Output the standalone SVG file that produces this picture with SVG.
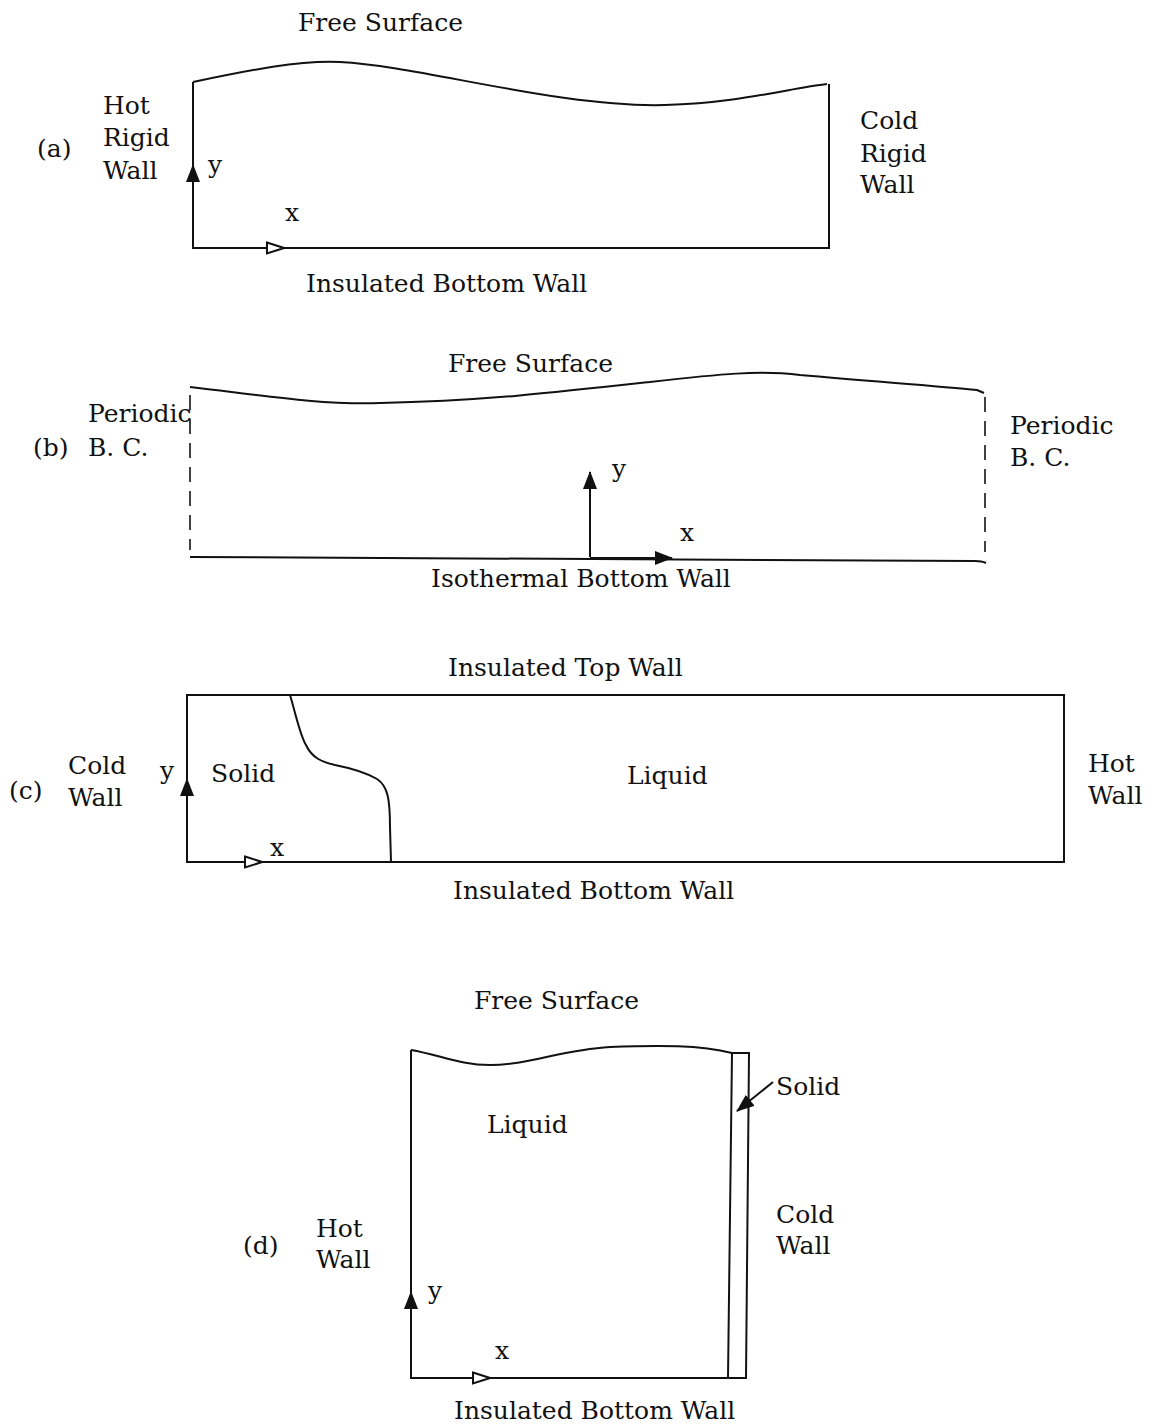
<svg xmlns="http://www.w3.org/2000/svg" width="1156" height="1425" viewBox="0 0 1156 1425">
<style>
text{font-family:"DejaVu Serif","Liberation Serif",serif;font-size:25px;fill:#111}
.ln{fill:none;stroke:#111;stroke-width:2}
.dash{fill:none;stroke:#111;stroke-width:1.6;stroke-dasharray:15 9}
</style>
<defs>
<marker id="af" markerUnits="userSpaceOnUse" markerWidth="18" markerHeight="14" refX="17" refY="7" orient="auto"><path d="M0,0 L18,7 L0,14 z" fill="#111"/></marker>
<marker id="ao" markerUnits="userSpaceOnUse" markerWidth="20" markerHeight="14" refX="18" refY="7" orient="auto"><path d="M1,1.5 L18,7 L1,12.5 z" fill="#fff" stroke="#111" stroke-width="2"/></marker>
</defs>
<rect width="1156" height="1425" fill="#fff"/>

<g id="panel-a">
<path class="ln" d="M193,82 C250,70 300,60 340,62 C420,66 560,108 665,105 C740,103 790,88 827,84"/>
<path class="ln" d="M193,82 L193,248 L829,248 L829,84"/>
<text x="298" y="31">Free Surface</text>
<text x="103" y="114">Hot</text>
<text x="103" y="146">Rigid</text>
<text x="103" y="179">Wall</text>
<text x="37" y="157">(a)</text>
<text x="208" y="173">y</text>
<text x="285" y="221">x</text>
<text x="860" y="129">Cold</text>
<text x="860" y="162">Rigid</text>
<text x="860" y="193">Wall</text>
<text x="306" y="292">Insulated Bottom Wall</text>
</g>

<g id="panel-b">
<path class="ln" d="M190,387 C260,395 320,405 380,403 C480,401 560,392 650,382 C720,374 760,370 800,375 C880,382 940,386 977,390 L984,393"/>
<path class="dash" d="M190,395 L190,550"/>
<path class="dash" d="M985,397 L985,552"/>
<path class="ln" d="M190,557 L975,561 Q982,561 986,563"/>
<text x="448" y="372">Free Surface</text>
<text x="88" y="422">Periodic</text>
<text x="88" y="456">B. C.</text>
<text x="33" y="456">(b)</text>
<text x="1010" y="434">Periodic</text>
<text x="1010" y="466">B. C.</text>
<text x="612" y="477">y</text>
<text x="680" y="541">x</text>
<text x="431" y="587">Isothermal Bottom Wall</text>
</g>

<g id="panel-c">
<rect class="ln" x="187" y="695" width="877" height="167"/>
<path class="ln" d="M290,695 C296,715 300,735 306,745 C312,758 322,762 335,765 C350,768 365,772 377,779 C388,786 390,800 390,827 L391,862"/>
<text x="448" y="676">Insulated Top Wall</text>
<text x="68" y="774">Cold</text>
<text x="68" y="806">Wall</text>
<text x="9" y="799">(c)</text>
<text x="160" y="779">y</text>
<text x="211" y="782">Solid</text>
<text x="627" y="784">Liquid</text>
<text x="1088" y="772">Hot</text>
<text x="1088" y="804">Wall</text>
<text x="270" y="856">x</text>
<text x="453" y="899">Insulated Bottom Wall</text>
</g>

<g id="panel-d">
<path class="ln" d="M411,1050 C440,1055 460,1065 490,1065 C530,1065 560,1050 610,1047 C660,1045 700,1045 732,1053"/>
<path class="ln" d="M411,1050 L411,1378 L747,1378"/>
<path class="ln" d="M732,1053 L728,1378"/>
<path class="ln" d="M732,1053 L749,1053 L746,1378"/>
<text x="474" y="1009">Free Surface</text>
<text x="776" y="1095">Solid</text>
<text x="487" y="1133">Liquid</text>
<text x="243" y="1254">(d)</text>
<text x="316" y="1237">Hot</text>
<text x="316" y="1268">Wall</text>
<text x="776" y="1223">Cold</text>
<text x="776" y="1254">Wall</text>
<text x="428" y="1299">y</text>
<text x="495" y="1359">x</text>
<text x="454" y="1419">Insulated Bottom Wall</text>
</g>

<g id="connectors">
<path class="ln" d="M193,248 L193,165" marker-end="url(#af)"/>
<path class="ln" d="M193,248 L284,248" marker-end="url(#ao)"/>
<path class="ln" d="M590,557 L590,472" marker-end="url(#af)"/>
<path class="ln" d="M590,558 L672,558" marker-end="url(#af)"/>
<path class="ln" d="M187,862 L187,779" marker-end="url(#af)"/>
<path class="ln" d="M187,862 L262,862" marker-end="url(#ao)"/>
<path class="ln" d="M411,1378 L411,1292" marker-end="url(#af)"/>
<path class="ln" d="M411,1378 L490,1378" marker-end="url(#ao)"/>
<path class="ln" stroke-width="1.6" d="M773,1082 L737,1111" marker-end="url(#af)"/>
</g>
</svg>
